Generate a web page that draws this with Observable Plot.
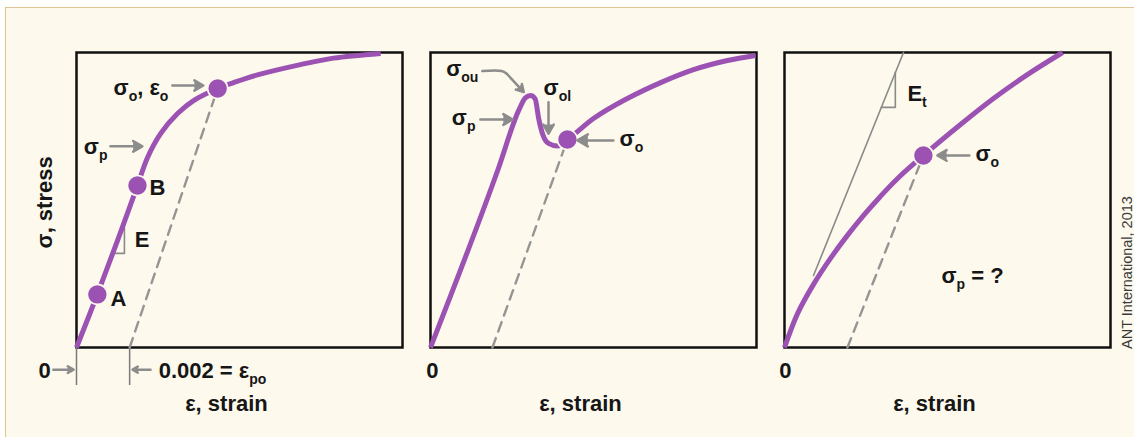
<!DOCTYPE html>
<html>
<head>
<meta charset="utf-8">
<script src="https://cdn.jsdelivr.net/npm/d3@7"></script>
<script src="https://cdn.jsdelivr.net/npm/@observablehq/plot@0.6"></script>
<style>
  html, body { margin: 0; padding: 0; background: #ffffff; }
  #stage { position: relative; width: 1134px; height: 437px; overflow: hidden; }
  #sheet { position: absolute; left: 5px; top: 7px; width: 1140px; height: 440px;
           background: #fdf9ec; border-top: 1.5px solid #dcc592; border-left: 1.5px solid #dcc592; }
</style>
</head>
<body>
<div id="stage"><div id="sheet"></div></div>
<script>
// Stress–strain sketches: strain and stress are in relative units (0–100 of each plotted range).

// ---- Panel 1: gradual yielding, 0.2 % offset ----
const p1Strain = [0, 6.4, 12.6, 18.7, 21.8, 25.8, 31.0, 35.9, 43.3, 48.2, 55.5, 68.7, 78.8, 93.3];
const p1Stress = [0, 18.0, 36.3, 54.9, 64.4, 72.5, 79.3, 83.7, 87.8, 89.8, 92.4, 95.9, 98.1, 99.7];
const p1Points = [
  {name: "A", strain: 6.4, stress: 18.0},
  {name: "B", strain: 18.7, stress: 54.9},
  {name: "σo", strain: 43.3, stress: 87.8}
];
const p1Offset = [{strain: 16.3, stress: 0}, {strain: 43.3, stress: 87.8}];
const p1StrainMarks = [0, 16.3];          // ε = 0 and ε = 0.002
const p1Slope = [{strain: 12.0, stress: 31.9}, {strain: 14.7, stress: 31.9}, {strain: 14.7, stress: 40.7}];
const p1Arrows = [
  {x1: 29.4, y1: 88.8, x2: 38.9, y2: 88.8},
  {x1: 10.4, y1: 68.2, x2: 20.2, y2: 68.2},
  {x1: -7.1, y1: -7.5, x2: -0.9, y2: -7.5},
  {x1: 22.7, y1: -7.5, x2: 17.2, y2: -7.5}
];
const p1LabelsEnd = [
  {text: "σ_{o}, ε_{o}", x: 28.2, y: 88.1},
  {text: "σ_{p}", x: 9.5, y: 68.1}
];
const p1LabelsStart = [{text: "0.002 = ε_{po}", x: 25.2, y: -8.1}];
const p1LabelsMid = [
  {text: "A", x: 12.9, y: 16.3},
  {text: "B", x: 24.8, y: 54.2},
  {text: "E", x: 20.1, y: 36.5},
  {text: "0", x: -9.8, y: -8.1},
  {text: "ε, strain", x: 46.0, y: -19.0}
];
const yTitle = [{text: "σ, stress", x: -9.8, y: 49.2}];

// ---- Panel 2: upper and lower yield points ----
const p2Strain = [0, 20.6, 27.3, 29.1, 30.7, 32.1, 33.2, 34.5, 36.2, 39.0, 42.0, 50.0, 60.4, 70.6, 80.7, 91.1, 99.7];
const p2Stress = [0, 60.0, 81.0, 84.6, 85.4, 84.3, 77.5, 72.0, 69.2, 68.3, 70.5, 77.6, 84.4, 89.8, 94.2, 97.3, 99.0];
const p2Points = [{name: "σo", strain: 42.0, stress: 70.5}];
const p2Offset = [{strain: 19.0, stress: 0}, {strain: 42.0, stress: 70.5}];
const p2Leader = [{strain: 15.9, stress: 93.7}, {strain: 21.8, stress: 93.7}, {strain: 23.4, stress: 92.8}];
const p2Arrows = [
  {x1: 23.4, y1: 92.8, x2: 28.6, y2: 86.6},
  {x1: 15.3, y1: 77.3, x2: 25.2, y2: 77.3},
  {x1: 36.2, y1: 83.1, x2: 36.2, y2: 72.5},
  {x1: 56.1, y1: 70.2, x2: 45.1, y2: 70.2}
];
const p2LabelsEnd = [
  {text: "σ_{ou}", x: 14.7, y: 94.3},
  {text: "σ_{p}", x: 13.8, y: 77.9}
];
const p2LabelsStart = [
  {text: "σ_{ol}", x: 34.7, y: 88.1},
  {text: "σ_{o}", x: 58.0, y: 70.6}
];
const p2LabelsMid = [
  {text: "0", x: 0.6, y: -8.1},
  {text: "ε, strain", x: 46.0, y: -19.0}
];

// ---- Panel 3: no linear region, tangent modulus ----
const p3Strain = [0, 4.0, 8.9, 14.1, 19.3, 24.2, 29.4, 34.7, 42.6, 54.0, 64.1, 74.5, 85.3];
const p3Stress = [0, 11.5, 21.4, 30.2, 38.0, 44.7, 51.2, 57.3, 65.1, 75.6, 84.4, 92.5, 100];
const p3Points = [{name: "σo", strain: 42.6, stress: 65.1}];
const p3Offset = [{strain: 19.3, stress: 0}, {strain: 42.6, stress: 65.1}];
const p3Tangent = [{strain: 8.9, stress: 24.4}, {strain: 36.5, stress: 100}];
const p3Slope = [{strain: 29.7, stress: 81.4}, {strain: 34.0, stress: 81.4}, {strain: 34.0, stress: 93.3}];
const p3Arrows = [{x1: 56.7, y1: 65.1, x2: 46.9, y2: 65.1}];
const p3LabelsStart = [
  {text: "E_{t}", x: 37.7, y: 85.8},
  {text: "σ_{o}", x: 58.6, y: 65.5}
];
const p3LabelsMid = [
  {text: "σ_{p} = ?", x: 57.7, y: 24.2},
  {text: "0", x: 0.3, y: -8.1},
  {text: "ε, strain", x: 46.0, y: -19.0}
];
const credit = [{text: "ANT International, 2013", x: 105.2, y: 25.4}];

// ---- styling ----
const PURPLE = "#9b52b3";
const ARROW = "#8c8c8c";
const DASH = "#959595";
const CREAM = "#fdf9ec";
const INK = "#161616";
const FONT = "'Liberation Sans', Arial, Helvetica, sans-serif";
const textStyle = {x: "x", y: "y", text: "text", lineAnchor: "middle", fontSize: 22,
                   fontWeight: "bold", fontFamily: FONT, fill: INK};

function curve(strain, stress, kind = "catmull-rom") {
  return Plot.line(strain, {x: strain, y: stress, curve: kind, stroke: PURPLE,
                            strokeWidth: 5, strokeLinecap: "butt"});
}
function dots(points) {
  return Plot.dot(points, {x: "strain", y: "stress", r: 10, fill: PURPLE, stroke: CREAM, strokeWidth: 1.6});
}
function offset(points) {
  return Plot.line(points, {x: "strain", y: "stress", stroke: DASH, strokeWidth: 2.4, strokeDasharray: "10,7"});
}
function arrows(data) {
  return Plot.arrow(data, {x1: "x1", y1: "y1", x2: "x2", y2: "y2", stroke: ARROW, fill: ARROW,
                           strokeWidth: 2.5, headLength: 9, headAngle: 60});
}
function labels(data, anchor) {
  return Plot.text(data, {...textStyle, textAnchor: anchor});
}

// Rewrite "x_{sub}" in rendered labels as real subscripts.
function subscripts(svg) {
  const ns = "http://www.w3.org/2000/svg";
  for (const t of svg.querySelectorAll("text")) {
    const s = t.textContent;
    if (!s.includes("_{")) continue;
    t.textContent = "";
    let lowered = false;
    for (const part of s.split(/(_\{[^}]*\})/)) {
      if (!part) continue;
      const span = document.createElementNS(ns, "tspan");
      if (part.startsWith("_{")) {
        span.textContent = part.slice(2, -1);
        span.setAttribute("font-size", "14");
        span.setAttribute("dy", "6");
        lowered = true;
      } else {
        span.textContent = part;
        if (lowered) { span.setAttribute("dy", "-6"); lowered = false; }
      }
      t.appendChild(span);
    }
  }
}

function panel(left, width, marginLeft, marks) {
  const svg = Plot.plot({
    width, height: 437,
    marginTop: 52, marginBottom: 90, marginLeft, marginRight: width - marginLeft - 326,
    x: {domain: [0, 100], axis: null},
    y: {domain: [0, 100], axis: null},
    marks: [Plot.frame({stroke: "#111", strokeWidth: 2.5}), ...marks]
  });
  subscripts(svg);
  Object.assign(svg.style, {position: "absolute", left: left + "px", top: "0px",
                            background: "none", overflow: "visible", maxWidth: "none"});
  document.getElementById("stage").appendChild(svg);
}

panel(0, 415, 76, [
  Plot.ruleX(p1StrainMarks, {x: d => d, y1: 0, y2: -12.9, stroke: "#7a7a7a", strokeWidth: 1.5}),
  offset(p1Offset),
  Plot.line(p1Slope, {x: "strain", y: "stress", stroke: "#8a8a8a", strokeWidth: 1.6}),
  curve(p1Strain, p1Stress),
  dots(p1Points),
  arrows(p1Arrows),
  labels(p1LabelsEnd, "end"),
  labels(p1LabelsStart, "start"),
  labels(p1LabelsMid, "middle"),
  Plot.text(yTitle, {...textStyle, textAnchor: "middle", rotate: -90})
]);

panel(415, 355, 15, [
  offset(p2Offset),
  curve(p2Strain, p2Stress, "monotone-x"),
  dots(p2Points),
  Plot.line(p2Leader, {x: "strain", y: "stress", curve: "catmull-rom", stroke: ARROW, strokeWidth: 2.5}),
  arrows(p2Arrows),
  labels(p2LabelsEnd, "end"),
  labels(p2LabelsStart, "start"),
  labels(p2LabelsMid, "middle")
]);

panel(770, 364, 14, [
  offset(p3Offset),
  Plot.line(p3Tangent, {x: "strain", y: "stress", stroke: "#8a8a8a", strokeWidth: 1.6}),
  Plot.line(p3Slope, {x: "strain", y: "stress", stroke: "#8a8a8a", strokeWidth: 1.6}),
  curve(p3Strain, p3Stress),
  dots(p3Points),
  arrows(p3Arrows),
  labels(p3LabelsStart, "start"),
  labels(p3LabelsMid, "middle"),
  Plot.text(credit, {x: "x", y: "y", text: "text", rotate: -90, textAnchor: "middle", lineAnchor: "middle",
                     fontSize: 14.5, fontFamily: FONT, fill: "#3a3a3a"})
]);
</script>
</body>
</html>
